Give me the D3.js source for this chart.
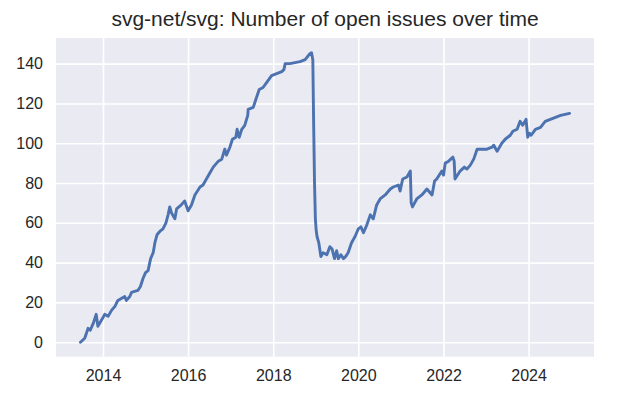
<!DOCTYPE html>
<html><head><meta charset="utf-8">
<script src="https://cdn.jsdelivr.net/npm/d3@7"></script>
<style>
body{margin:0;background:#fff;}
text{font-family:"Liberation Sans",Arial,sans-serif;fill:#262626;}
</style></head>
<body><svg id="c" width="618" height="396"></svg>
<script>
const title = "svg-net/svg: Number of open issues over time";
// decimal years (time axis) and number of open issues
const years = [2013.47,2013.57,2013.65,2013.70,2013.78,2013.84,2013.88,2013.99,2014.04,2014.12,2014.20,2014.28,2014.35,2014.43,2014.51,2014.55,2014.63,2014.67,2014.82,2014.88,2014.94,2015.00,2015.06,2015.12,2015.18,2015.22,2015.27,2015.35,2015.41,2015.48,2015.53,2015.57,2015.61,2015.69,2015.73,2015.84,2015.92,2016.00,2016.08,2016.16,2016.28,2016.35,2016.43,2016.51,2016.59,2016.71,2016.79,2016.86,2016.90,2016.98,2017.04,2017.12,2017.15,2017.20,2017.26,2017.33,2017.40,2017.41,2017.53,2017.59,2017.67,2017.76,2017.86,2017.96,2018.08,2018.20,2018.25,2018.28,2018.39,2018.63,2018.75,2018.86,2018.90,2018.93,2018.95,2018.97,2018.99,2019.01,2019.03,2019.07,2019.12,2019.17,2019.26,2019.33,2019.38,2019.44,2019.49,2019.53,2019.59,2019.65,2019.70,2019.76,2019.84,2019.92,2020.00,2020.06,2020.12,2020.20,2020.28,2020.35,2020.43,2020.51,2020.63,2020.75,2020.82,2020.94,2020.98,2021.04,2021.14,2021.22,2021.24,2021.27,2021.37,2021.49,2021.61,2021.69,2021.73,2021.79,2021.84,2021.96,2022.00,2022.04,2022.12,2022.22,2022.25,2022.27,2022.39,2022.49,2022.55,2022.63,2022.71,2022.79,2022.90,2023.02,2023.14,2023.18,2023.26,2023.37,2023.45,2023.57,2023.63,2023.73,2023.80,2023.86,2023.94,2023.98,2024.02,2024.06,2024.16,2024.28,2024.39,2024.51,2024.63,2024.75,2024.96];
const issues = [0,2,7,6,10,14,8,12,14,13,16,18,21,22,23,21,23,25,26,28,32,35,36,42,45,50,54,56,57,60,64,68,65,62,67,69,71,66,69,74,78,79,82,85,88,91,92,97,94,98,102,103,107,103,107,109,114,117,118,122,127,128,131,134,135,136,137,140,140,141,142,145,145.5,142,109,80,62,56,53,50,43,45,44,48,47,42,46,42,44,42,43,45,50,53,57,58,55,59,64,62,69,72,74,77,78,79,76,82,83,86,70,68,72,74,77,75,74,81,82,86,84,90,91,93,91,82,86,88,87,89,92,97,97,97,98,99,96,100,102,104,106,107,111,109,112,103,105,104,107,108,111,112,113,114,115];
const yTicks = [0,20,40,60,80,100,120,140];

const W=618,H=396, m={l:56,r:24,t:38,b:39.3};
const svg=d3.select("#c");
const toDate = y => { const yr=Math.floor(y); const s=new Date(yr,0,1), e=new Date(yr+1,0,1); return new Date(+s+(y-yr)*(e-s)); };
const data = years.map((y,i)=>({d:toDate(y), v:issues[i]}));

const xe=d3.extent(data,d=>+d.d), xp=(xe[1]-xe[0])*0.05;
const x=d3.scaleTime().domain([new Date(xe[0]-xp),new Date(xe[1]+xp)]).range([m.l,W-m.r]);
const ye=[0,145.6], yp=(ye[1]-ye[0])*0.05;
const y=d3.scaleLinear().domain([ye[0]-yp,ye[1]+yp]).range([H-m.b,m.t]);

svg.append("rect").attr("x",m.l).attr("y",m.t).attr("width",W-m.l-m.r).attr("height",H-m.t-m.b).attr("fill","#eaeaf2");

const xt=d3.timeYear.every(2).range(new Date(2013,0,1),new Date(2026,0,1)).filter(d=>d>=x.domain()[0]&&d<=x.domain()[1]);

const xa=svg.append("g").attr("transform",`translate(0,${H-m.b})`).call(d3.axisBottom(x).tickValues(xt).tickFormat(d3.timeFormat("%Y")).tickSize(-(H-m.t-m.b)).tickPadding(13));
const ya=svg.append("g").attr("transform",`translate(${m.l},0)`).call(d3.axisLeft(y).tickValues(yTicks).tickSize(-(W-m.l-m.r)).tickPadding(13));
[xa,ya].forEach(a=>{a.select(".domain").remove();a.selectAll("line").attr("stroke","#fff").attr("stroke-width",1.6);a.selectAll("text").attr("font-size",16).attr("fill","#262626").style("font-family","'Liberation Sans',Arial,sans-serif");});
xa.selectAll("text").attr("dy","0.71em");

svg.append("path").datum(data).attr("fill","none").attr("stroke","#4c72b0").attr("stroke-width",2.9).attr("stroke-linejoin","round").attr("stroke-linecap","round")
  .attr("d",d3.line().x(d=>x(d.d)).y(d=>y(d.v)));

svg.append("text").attr("x",(m.l+W-m.r)/2).attr("y",26).attr("text-anchor","middle").attr("font-size",21).text(title);
</script></body></html>
